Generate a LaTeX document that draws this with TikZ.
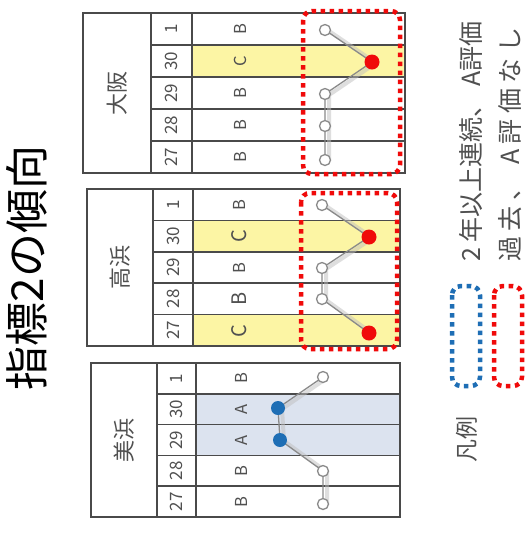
\documentclass[tikz,border=0pt]{standalone}
\usepackage{fontspec}
\setmainfont{Noto Sans CJK JP}
\usetikzlibrary{calc}
\definecolor{frm}{HTML}{4A4A4A}
\definecolor{ylw}{HTML}{FCF5A4}
\definecolor{lblue}{HTML}{DCE3EF}
\definecolor{rdot}{HTML}{F00A0A}
\definecolor{bdot}{HTML}{1E6EB5}
\definecolor{txt}{HTML}{505050}
\definecolor{lgray}{HTML}{8A8A8A}
\tikzset{
  frame/.style={draw=frm, line width=1.6pt},
  hdr/.style={rotate=90, font=\fontsize{22}{22}\selectfont, text=txt, inner sep=0pt},
  yr/.style={rotate=90, font=\fontsize{17}{17}\selectfont, text=txt, inner sep=0pt},
  grd/.style={rotate=90, font=\fontsize{16.5}{16.5}\selectfont, text=txt, inner sep=0pt},
  grdbig/.style={rotate=90, font=\fontsize{20}{20}\selectfont, text=txt, inner sep=0pt},
  conn/.style={draw=lgray, line width=1.3pt},
  shad/.style={draw=black!25, line width=4pt, opacity=0.5},
  wpt/.style={circle, draw=lgray, fill=white, line width=1.3pt, minimum size=11pt, inner sep=0pt},
  rpt/.style={circle, fill=rdot, minimum size=15pt, inner sep=0pt},
  bpt/.style={circle, fill=bdot, minimum size=14pt, inner sep=0pt},
  redbox/.style={draw=rdot, line width=4.5pt, dash pattern=on 4.5pt off 4.5pt, rounded corners=9pt},
  bluebox/.style={draw=bdot, line width=4.5pt, dash pattern=on 4.5pt off 4.5pt, rounded corners=9pt},
  legtxt/.style={rotate=90, anchor=west, font=\fontsize{25}{25}\selectfont, text=txt, inner sep=0pt},
}
% #1 x0, #2 xh, #3 xy, #4 x1, #5 y0, #6 row height, #7 header text, #8 name
\newcommand\mytabl[8]{%
  \draw[frame] (#1,#5) rectangle (#4,#5+5*#6);
  \draw[frame] (#2,#5) -- (#2,#5+5*#6);
  \draw[frame] (#3,#5) -- (#3,#5+5*#6);
  \foreach \i in {1,...,4} \draw[frame] (#2,#5+\i*#6) -- (#4,#5+\i*#6);
  \node[hdr] (#8-hdr) at ({(#1+#2)/2},#5+2.5*#6) {#7};
  \foreach \yr [count=\i from 0] in {1,30,29,28,27}
    \node[yr] (#8-yr\yr) at ({(#2+#3)/2},#5+\i*#6+0.5*#6) {\yr};
}
\begin{document}
\begin{tikzpicture}[x=1pt,y=-1pt]
\useasboundingbox (0,0) rectangle (532,550);
\fill[white] (0,0) rectangle (532,550);

% title
\node[rotate=90, font=\fontsize{44}{44}\selectfont, inner sep=0pt] (title) at (27,268) {指標2の傾向};

% ---------- 大阪 ----------
\fill[ylw] (192,45) rectangle (405,77);
\mytabl{83}{151}{192}{405}{13}{32}{大阪}{osk}
\node[grd] (osk-g1) at (240,29) {B};
\node[grd] (osk-g30) at (240,61) {C};
\node[grd] (osk-g29) at (240,93) {B};
\node[grd] (osk-g28) at (240,125) {B};
\node[grd] (osk-g27) at (240,157) {B};
\coordinate (pa1) at (325,30);
\coordinate (pa30) at (372,62);
\coordinate (pa29) at (325,94);
\coordinate (pa28) at (325,126);
\coordinate (pa27) at (325,160);
\draw[shad] ($(pa1)+(4,1)$) -- ($(pa30)+(4,1)$) -- ($(pa29)+(4,1)$) -- ($(pa28)+(4,1)$) -- ($(pa27)+(4,1)$);
\draw[conn] (pa1) -- (pa30) -- (pa29) -- (pa28) -- (pa27);
\node[wpt] (osk-p1) at (pa1) {};
\node[rpt] (osk-p30) at (pa30) {};
\node[wpt] (osk-p29) at (pa29) {};
\node[wpt] (osk-p28) at (pa28) {};
\node[wpt] (osk-p27) at (pa27) {};
\draw[redbox] (303,11) rectangle (400,174);

% ---------- 高浜 ----------
\fill[ylw] (193,220.4) rectangle (400,251.8);
\fill[ylw] (193,314.6) rectangle (400,346);
\mytabl{87}{153}{193}{400}{189}{31.4}{高浜}{tkh}
\node[grd] (tkh-g1) at (239,205) {B};
\node[grdbig] (tkh-g30) at (239,236) {C};
\node[grd] (tkh-g29) at (239,268) {B};
\node[grdbig] (tkh-g28) at (239,299) {B};
\node[grdbig] (tkh-g27) at (239,331) {C};
\coordinate (pb1) at (322,205);
\coordinate (pb30) at (369,237);
\coordinate (pb29) at (322,268);
\coordinate (pb28) at (322,299);
\coordinate (pb27) at (369,333);
\draw[shad] ($(pb1)+(4,1)$) -- ($(pb30)+(4,1)$) -- ($(pb29)+(4,1)$) -- ($(pb28)+(4,1)$) -- ($(pb27)+(4,1)$);
\draw[conn] (pb1) -- (pb30) -- (pb29) -- (pb28) -- (pb27);
\node[wpt] (tkh-p1) at (pb1) {};
\node[rpt] (tkh-p30) at (pb30) {};
\node[wpt] (tkh-p29) at (pb29) {};
\node[wpt] (tkh-p28) at (pb28) {};
\node[rpt] (tkh-p27) at (pb27) {};
\draw[redbox] (301,193) rectangle (397,349);

% ---------- 美浜 ----------
\fill[lblue] (196,393.8) rectangle (400,455.4);
\mytabl{91}{157}{196}{400}{363}{30.8}{美浜}{mhm}
\node[grd] (mhm-g1) at (241,378) {B};
\node[grd] (mhm-g30) at (241,409) {A};
\node[grd] (mhm-g29) at (241,440) {A};
\node[grd] (mhm-g28) at (241,471) {B};
\node[grd] (mhm-g27) at (241,502) {B};
\coordinate (pc1) at (323,377);
\coordinate (pc30) at (278,408);
\coordinate (pc29) at (280,440);
\coordinate (pc28) at (323,471);
\coordinate (pc27) at (323,504);
\draw[shad] ($(pc1)+(4,1)$) -- ($(pc30)+(4,1)$) -- ($(pc29)+(4,1)$) -- ($(pc28)+(4,1)$) -- ($(pc27)+(4,1)$);
\draw[conn] (pc1) -- (pc30) -- (pc29) -- (pc28) -- (pc27);
\node[wpt] (mhm-p1) at (pc1) {};
\node[bpt] (mhm-p30) at (pc30) {};
\node[bpt] (mhm-p29) at (pc29) {};
\node[wpt] (mhm-p28) at (pc28) {};
\node[wpt] (mhm-p27) at (pc27) {};

% ---------- legend ----------
\node[rotate=90, font=\fontsize{23}{23}\selectfont, text=txt, inner sep=0pt] (legend) at (467,439) {凡例};
\draw[bluebox] (452,286) rectangle (480,386);
\draw[redbox] (494,286) rectangle (522,386);
\node[legtxt] (leg1) at (471,262) {2 年以上連続、 A評価};
\node[legtxt] (leg2) at (510,262) {\addfontfeature{LetterSpace=22}過去、 A評価なし};
\end{tikzpicture}
\end{document}
